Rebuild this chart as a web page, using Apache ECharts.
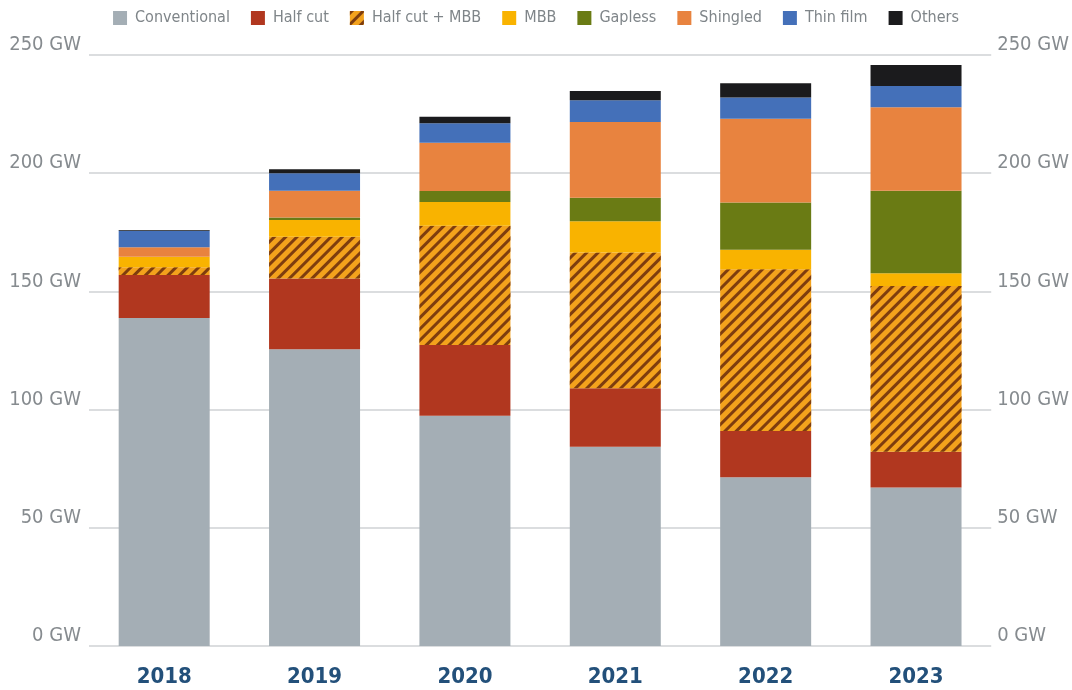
<!DOCTYPE html>
<html><head><meta charset="utf-8">
<script src="https://cdn.jsdelivr.net/npm/echarts@6/dist/echarts.min.js"></script>
<style>html,body{margin:0;padding:0;background:#fff;}#c{width:1072px;height:690px;}</style>
</head><body><div id="c"></div>
<script>
var categories = ['2018','2019','2020','2021','2022','2023'];
var yTicks = [0,50,100,150,200,250];
var conventional = [138.7,125.5,97.4,84.3,71.4,67.0];
var halfCut = [18.2,30.0,29.9,24.7,19.6,15.2];
var halfCutMBB = [3.3,17.6,50.5,57.5,68.4,70.1];
var mbb = [4.5,7.1,10.0,13.2,8.2,5.4];
var gapless = [0,1.1,4.7,9.9,20.0,34.9];
var shingled = [4.0,11.3,20.4,32.1,35.4,35.3];
var thinFilm = [7.0,7.4,8.2,9.2,9.0,9.0];
var others = [0.3,1.7,2.8,3.9,6.1,8.9];

var FONT = "'Liberation Sans Narrow','DejaVu Sans Condensed','Open Sans',sans-serif";
var chart = echarts.init(document.getElementById('c'), null, {renderer:'canvas'});
function s(name, data, color, extra){
  var o = {name:name, type:'bar', stack:'t', data:data, barWidth:91,
    itemStyle:{color:color}, emphasis:{disabled:true}};
  if(extra){ o.itemStyle.decal = extra; }
  return o;
}
var yAxisBase = function(pos){
  return {type:'value', position:pos, min:yTicks[0], max:yTicks[yTicks.length-1], interval:50,
    axisLine:{show:false}, axisTick:{show:false},
    splitLine:{show: pos==='left', lineStyle:{color:'#cfd2d4', width:1.5}},
    axisLabel:{formatter:function(v){return v+' GW';}, color:'#868b8f',
      fontFamily:FONT, fontSize:20, margin:pos==='left'?8:6, verticalAlign:'bottom'}};
};
chart.setOption({
  animation:false,
  legend:{top:5, left:'center', itemWidth:14, itemHeight:14, itemGap:21,
    icon:'rect',
    textStyle:{color:'#7f8589', fontFamily:FONT, fontSize:16, padding:[0,0,0,3]},
    data:['Conventional','Half cut','Half cut + MBB','MBB','Gapless','Shingled','Thin film','Others']},
  grid:{left:89, right:74, top:55, bottom:44},
  xAxis:{type:'category', data:categories,
    axisLine:{show:false}, axisTick:{show:false},
    axisLabel:{color:'#23507a', fontFamily:FONT, fontWeight:'bold', fontSize:22, margin:20}},
  yAxis:[yAxisBase('left'), yAxisBase('right')],
  series:[
    s('Conventional', conventional, '#a4aeb5'),
    s('Half cut', halfCut, '#b1371f'),
    s('Half cut + MBB', halfCutMBB, '#f3a21c', {symbol:'rect', dashArrayX:[1,0], dashArrayY:[3,5], rotation:-Math.PI/4, color:'#7e3d0e', symbolSize:1}),
    s('MBB', mbb, '#f9b300'),
    s('Gapless', gapless, '#6a7b14'),
    s('Shingled', shingled, '#e8833f'),
    s('Thin film', thinFilm, '#4470b9'),
    s('Others', others, '#1b1b1d')
  ]
});
</script></body></html>
